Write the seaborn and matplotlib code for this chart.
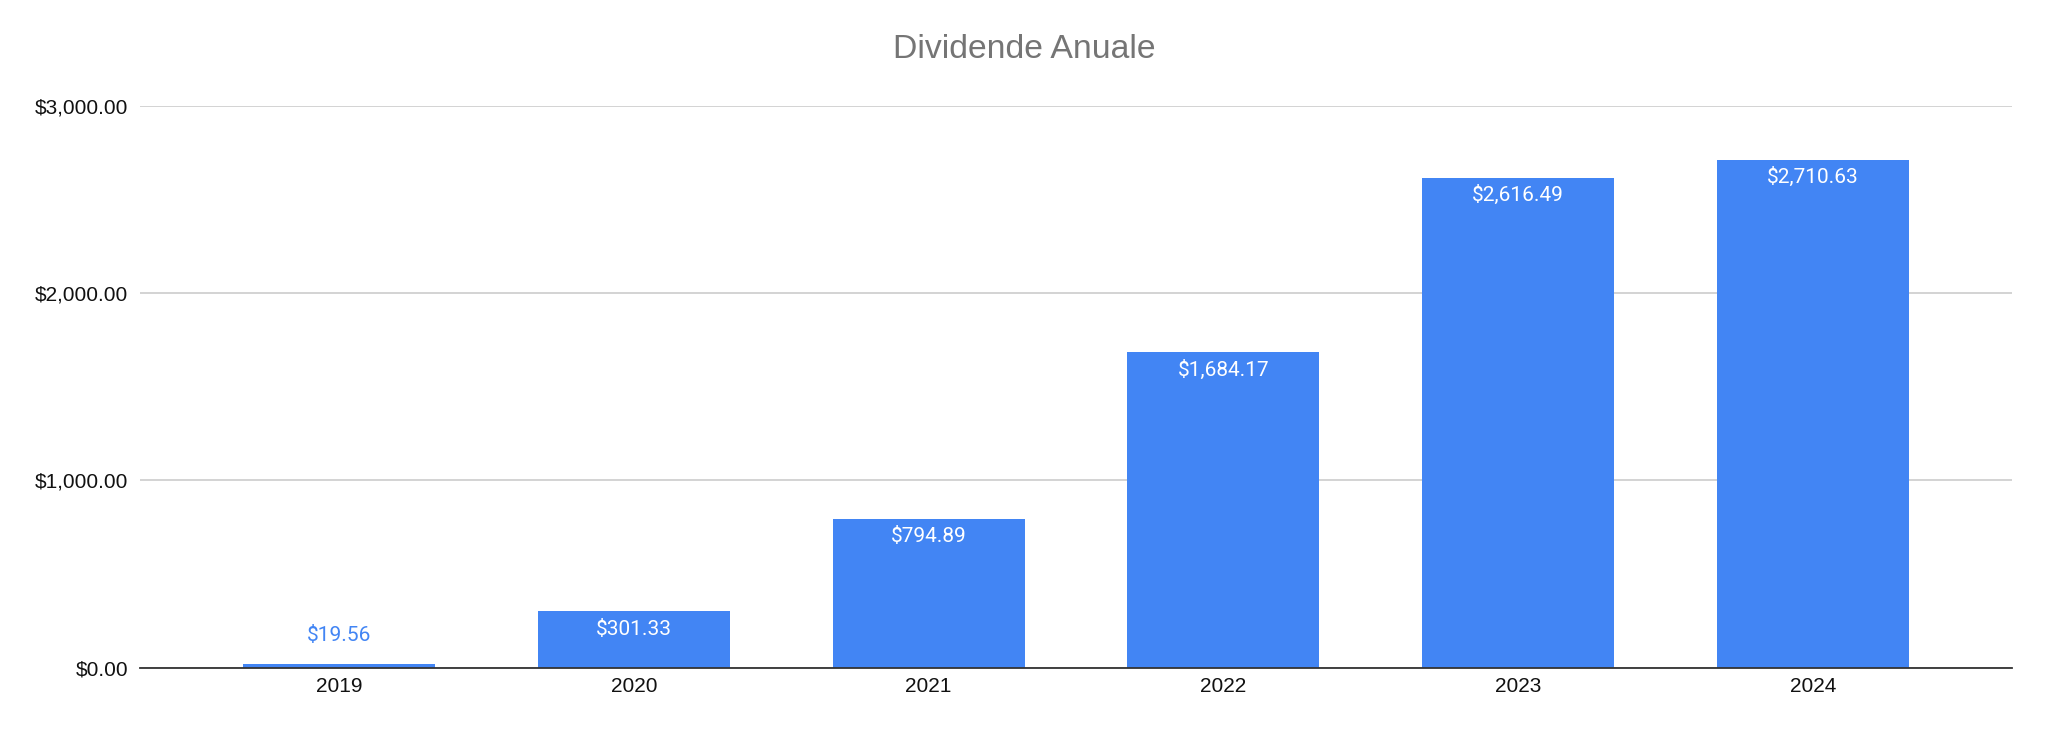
import matplotlib
matplotlib.use("Agg")
import matplotlib.pyplot as plt
import seaborn as sns
import pandas as pd

years = ["2019", "2020", "2021", "2022", "2023", "2024"]
dividends = [19.56, 301.33, 794.89, 1684.17, 2616.49, 2710.63]
y_ticks = [0, 1000, 2000, 3000]
title = "Dividende Anuale"

sns.set_theme(style="white")
plt.rcParams['font.family'] = ['Liberation Sans', 'DejaVu Sans']

df = pd.DataFrame({"year": years, "value": dividends})

fig = plt.figure(figsize=(20.48, 7.35), dpi=100)
ax = fig.add_axes([0.0684, 0.0916, 0.914, 0.7646])

bar_color = "#4285F4"
sns.barplot(data=df, x="year", y="value", color=bar_color, saturation=1,
            width=0.651, ax=ax, edgecolor="none")

ax.set_ylim(0, 3000)
ax.set_xlim(-0.675, 5.675)
ax.set_yticks(y_ticks)
ax.set_yticklabels([f"${v:,.2f}" for v in y_ticks])
ax.yaxis.grid(True, color="#CCCCCC", linewidth=1.2)
ax.set_axisbelow(True)
for s in ["top", "right", "left"]:
    ax.spines[s].set_visible(False)
ax.spines["bottom"].set_color("#333333")
ax.spines["bottom"].set_linewidth(1.3)
ax.set_xlabel("")
ax.set_ylabel("")
ax.tick_params(axis="both", length=0, labelsize=15, colors="#111111")
ax.tick_params(axis="y", pad=8.6)
ax.tick_params(axis="x", pad=7)

container = ax.containers[0]
inside = [f"${v:,.2f}" if v > 200 else "" for v in dividends]
outside = [f"${v:,.2f}" if v <= 200 else "" for v in dividends]
ax.bar_label(container, labels=inside, padding=-19.7, color="white",
             fontsize=15, family=["Roboto", "DejaVu Sans"])
ax.bar_label(container, labels=outside, padding=14, color=bar_color,
             fontsize=15, family=["Roboto", "DejaVu Sans"])

fig.text(0.5, 1 - 50 / 735, title, ha="center", va="center", fontsize=24.3,
         color="#757575")

fig.savefig("out.png", dpi=100)
